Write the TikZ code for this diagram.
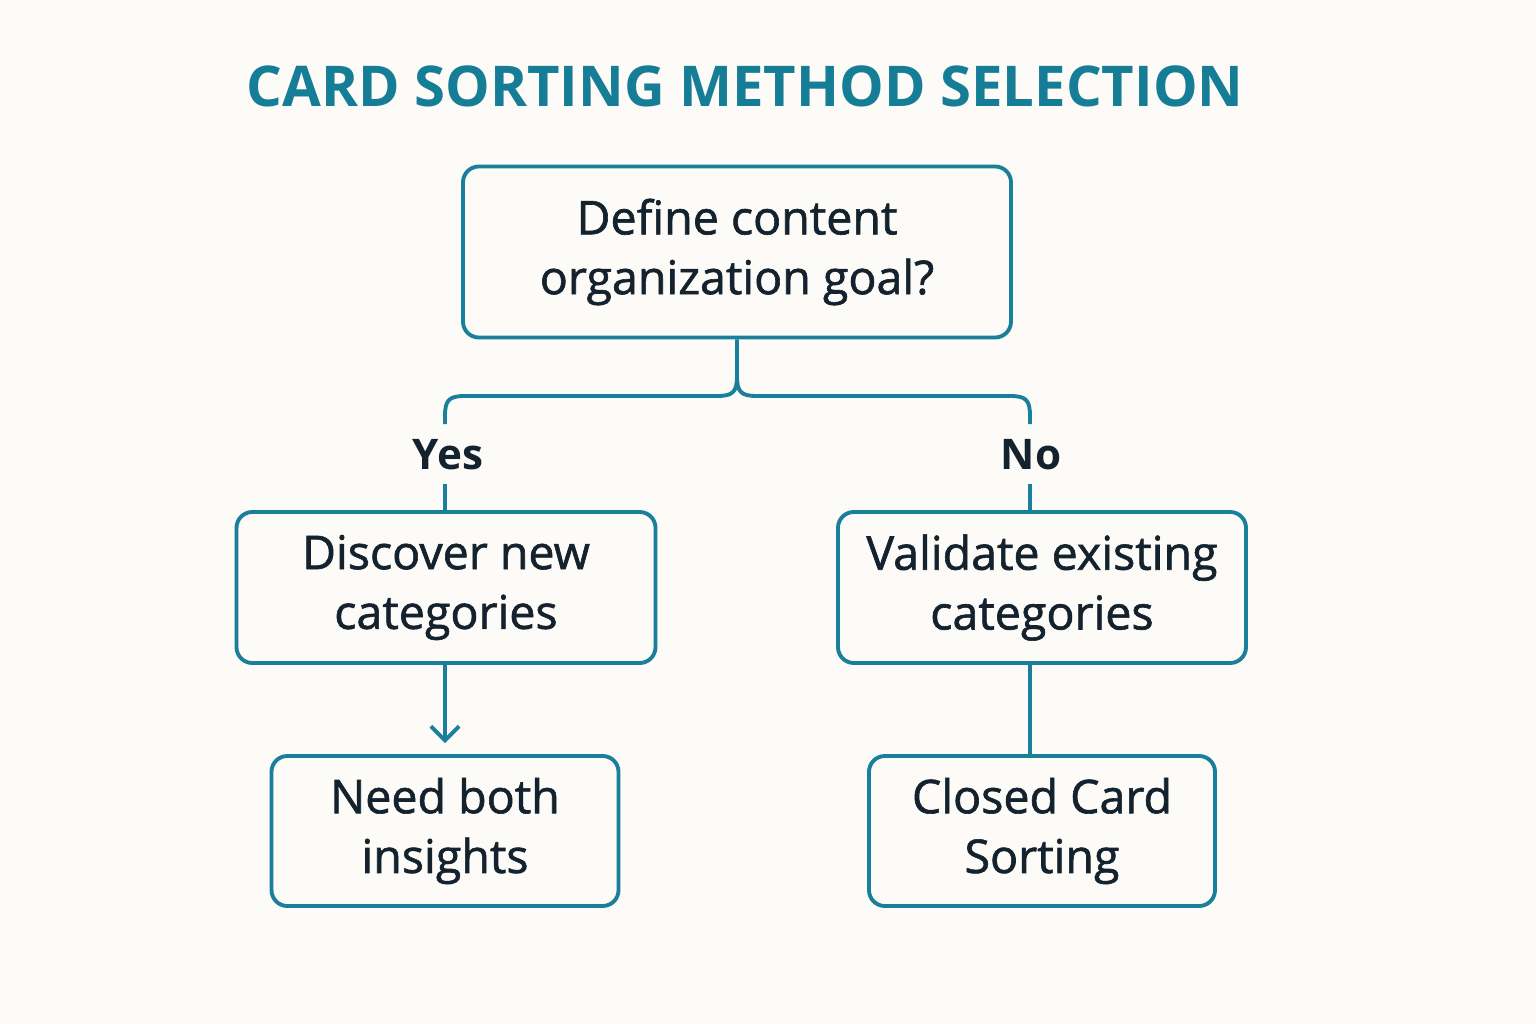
\documentclass[tikz,border=0pt]{standalone}
\usepackage{fontspec}
\setmainfont{Open Sans}
\newfontfamily\semib[FakeBold=1.3]{Open Sans}
\usetikzlibrary{arrows.meta}
\definecolor{teal1}{HTML}{1A7F9A}
\definecolor{ttl}{HTML}{167D96}
\definecolor{txt}{HTML}{14222E}
\definecolor{bg}{HTML}{FCFBF7}
\begin{document}
\begin{tikzpicture}[x=0.02cm,y=-0.02cm,
  box/.style={draw=teal1,line width=2.2pt,rounded corners=9pt,align=center,text=txt,font=\semib\fontsize{26.5}{34}\selectfont,inner sep=0pt},
  conn/.style={draw=teal1,line width=2.2pt},
  lbl/.style={text=txt,font=\fontsize{24}{28}\selectfont\bfseries}]
\fill[bg] (0,0) rectangle (1536,1024);
\useasboundingbox (0,0) rectangle (1536,1024);
\node[text=ttl,font=\fontsize{32}{36}\selectfont\bfseries] (title) at (745,86) {CARD SORTING METHOD SELECTION};
\node[box,minimum width=548*0.02cm,minimum height=171*0.02cm] (top) at (737,252) {Define content\\organization goal?};
\node[box,minimum width=419*0.02cm,minimum height=151*0.02cm] (disc) at (446,587.5) {Discover new\\categories};
\node[box,minimum width=408*0.02cm,minimum height=151*0.02cm] (val) at (1042,587.5) {Validate existing\\categories};
\node[box,minimum width=347*0.02cm,minimum height=150*0.02cm] (need) at (445,831) {Need both\\insights};
\node[box,minimum width=346*0.02cm,minimum height=150*0.02cm] (closed) at (1042,831) {Closed Card\\Sorting};
\node[lbl] (yes) at (448,455) {Yes};
\node[lbl] (no) at (1031,455) {No};
\draw[conn] (top.south) -- (737,376) .. controls (737,392) and (733,396) .. (717,396) -- (465,396) .. controls (449,396) and (445,400) .. (445,416) -- (445,424);
\draw[conn] (737,376) .. controls (737,392) and (741,396) .. (757,396) -- (1010,396) .. controls (1026,396) and (1030,400) .. (1030,416) -- (1030,424);
\draw[conn] (445,484) -- (445,512);
\draw[conn] (1030,484) -- (1030,512);
\draw[conn,-{Straight Barb[length=8pt,width=16pt,line width=2.2pt]}] (445,663) -- (445,743);
\draw[conn] (1030,663) -- (1030,756);
\end{tikzpicture}
\end{document}
